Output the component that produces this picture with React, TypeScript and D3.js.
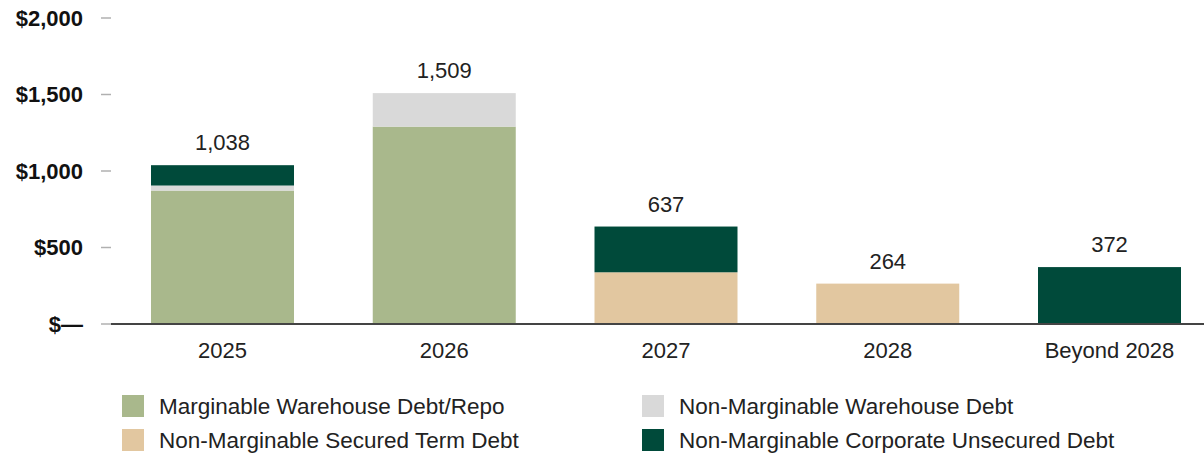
import React from "react";
import * as d3 from "d3";

const categories = ["2025", "2026", "2027", "2028", "Beyond 2028"];
const marginableWarehouse = [872, 1290, 0, 0, 0];
const nonMarginableWarehouse = [33, 219, 0, 0, 0];
const securedTerm = [0, 0, 338, 264, 0];
const corporateUnsecured = [133, 0, 299, 0, 372];
const totalLabels = ["1,038", "1,509", "637", "264", "372"];
const yTicks = [0, 500, 1000, 1500, 2000];
const yTickLabels = ["$\u2014", "$500", "$1,000", "$1,500", "$2,000"];
const seriesNames = [
  "Marginable Warehouse Debt/Repo",
  "Non-Marginable Warehouse Debt",
  "Non-Marginable Secured Term Debt",
  "Non-Marginable Corporate Unsecured Debt",
];
const seriesKeys = ["mw", "nmw", "st", "cu"];
const colors = ["#a9b88c", "#d9d9d9", "#e2c7a0", "#004a3a"];

const W = 1204;
const H = 453;
const FONT = "'Liberation Sans', Arial, sans-serif";

export default function App() {
  const rows = categories.map((c, i) => ({
    cat: c,
    mw: marginableWarehouse[i],
    nmw: nonMarginableWarehouse[i],
    st: securedTerm[i],
    cu: corporateUnsecured[i],
  }));
  const stacked = d3.stack<any>().keys(seriesKeys)(rows);
  const y = d3.scaleLinear().domain([0, 2000]).range([324, 18]);
  const step = 221.75;
  const bw = 143;
  const pad = (step - bw) / 2;
  const x = d3
    .scaleBand()
    .domain(categories)
    .range([151 - pad, 1181 + pad])
    .paddingInner(1 - bw / step)
    .paddingOuter((1 - bw / step) / 2);

  const totals = categories.map((_, i) =>
    seriesKeys.reduce((s, k) => s + (rows[i] as any)[k], 0)
  );

  const legendPos = [
    { x: 122, y: 395 },
    { x: 642, y: 395 },
    { x: 122, y: 429 },
    { x: 642, y: 429 },
  ];
  const legendOrder = [0, 1, 2, 3];

  return (
    <svg
      width={W}
      height={H}
      style={{ position: "absolute", left: 0, top: 0, background: "#fff" }}
      fontFamily={FONT}
    >
      <rect x={0} y={0} width={W} height={H} fill="#fff" />
      {/* y ticks */}
      {yTicks.map((t, i) => (
        <g key={t}>
          <line x1={101} x2={111} y1={y(t)} y2={y(t)} stroke="#b0b0b0" strokeWidth={1.5} />
          <text
            x={83}
            y={y(t)}
            dy="0.36em"
            textAnchor="end"
            fontSize={22}
            fontWeight="bold"
            fill="#111"
          >
            {yTickLabels[i]}
          </text>
        </g>
      ))}
      {/* bars */}
      {stacked.map((s, si) => (
        <g key={s.key} fill={colors[si]}>
          {s.map((d, i) =>
            d[1] - d[0] > 0 ? (
              <rect
                key={i}
                x={x(categories[i])}
                width={x.bandwidth()}
                y={y(d[1])}
                height={y(d[0]) - y(d[1])}
              />
            ) : null
          )}
        </g>
      ))}
      {/* axis line */}
      <line x1={111} x2={W} y1={y(0)} y2={y(0)} stroke="#444" strokeWidth={2} />
      {/* value labels */}
      {categories.map((c, i) => (
        <text
          key={c}
          x={(x(c) as number) + x.bandwidth() / 2}
          y={y(totals[i]) - 15}
          textAnchor="middle"
          fontSize={22}
          fill="#222"
        >
          {totalLabels[i]}
        </text>
      ))}
      {/* x labels */}
      {categories.map((c) => (
        <text
          key={c}
          x={(x(c) as number) + x.bandwidth() / 2}
          y={358}
          textAnchor="middle"
          fontSize={22}
          fill="#222"
        >
          {c}
        </text>
      ))}
      {/* legend */}
      {legendOrder.map((si, j) => (
        <g key={si}>
          <rect x={legendPos[j].x} y={legendPos[j].y} width={22} height={22} fill={colors[si]} />
          <text
            x={legendPos[j].x + 37}
            y={legendPos[j].y + 11}
            dy="0.36em"
            fontSize={22.5}
            fill="#222"
          >
            {seriesNames[si]}
          </text>
        </g>
      ))}
    </svg>
  );
}
